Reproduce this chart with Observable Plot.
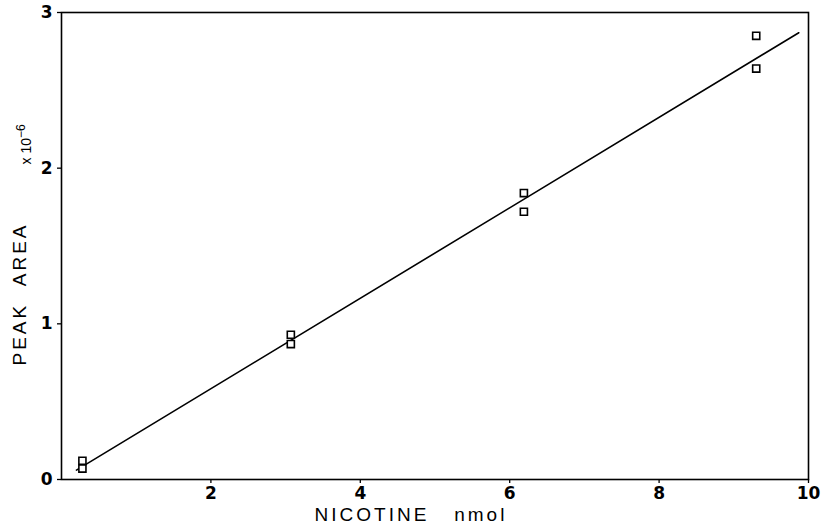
<!DOCTYPE html>
<html>
<head>
<meta charset="utf-8">
<script src="https://cdn.jsdelivr.net/npm/d3@7"></script>
<script src="https://cdn.jsdelivr.net/npm/@observablehq/plot@0.6"></script>
<style>
  html, body { margin: 0; padding: 0; background: #fff; }
  svg { display: block; }
  g.xlab text { font-size: 19px; letter-spacing: 3px; }
  g.ylab text { font-size: 19px; letter-spacing: 3px; }
  g.exp text { font-size: 14px; }
  text.ticklab { font-family: 'DejaVu Sans', sans-serif !important; font-size: 17px !important; font-weight: bold !important; }
</style>
</head>
<body>
<div id="chart"></div>
<script>
// Nicotine amount (nmol) and peak area (x 10^-6)
const nicotine = [0.28, 0.28, 3.07, 3.07, 6.19, 6.19, 9.30, 9.30];
const peakArea = [0.12, 0.07, 0.93, 0.87, 1.84, 1.72, 2.85, 2.64];
// regression line end points
const fitX = [0.2, 9.87];
const fitY = [0.06, 2.87];
const xTicks = [2, 4, 6, 8, 10];
const yTicks = [0, 1, 2, 3];

const points = nicotine.map((x, i) => ({x, y: peakArea[i]}));
const fit = fitX.map((x, i) => ({x, y: fitY[i]}));

const font = "'Liberation Sans', Arial, Helvetica, sans-serif";

const chart = Plot.plot({
  width: 824,
  height: 532,
  marginLeft: 61,
  marginRight: 16,
  marginTop: 12,
  marginBottom: 53,
  style: {fontFamily: font, color: "#000", background: "#fff"},
  x: {domain: [0, 10]},
  y: {domain: [0, 3]},
  marks: [
    Plot.frame({stroke: "#000", strokeWidth: 1.6}),
    Plot.axisX({ticks: xTicks, tickFormat: "d", tickSize: 4, tickPadding: 3, label: null, strokeWidth: 1.3}),
    Plot.axisY({ticks: yTicks, tickFormat: "d", tickSize: 4, tickPadding: 5, label: null, strokeWidth: 1.3}),
    Plot.line(fit, {x: "x", y: "y", stroke: "#000", strokeWidth: 1.6}),
    Plot.dot(points, {x: "x", y: "y", symbol: "square", r: 4, stroke: "#000", strokeWidth: 1.6, fill: "#fff"}),
    Plot.text(["NICOTINE\u00a0\u00a0\u00a0nmol"], {className: "xlab", frameAnchor: "bottom", dx: -24, dy: 41, fill: "#000", textAnchor: "middle"}),
    Plot.text(["PEAK\u00a0\u00a0AREA"], {className: "ylab", frameAnchor: "left", dx: -42, dy: 48, rotate: -90, fill: "#000", textAnchor: "middle"}),
    Plot.text(["x 10"], {className: "exp", frameAnchor: "top-left", dx: -40, dy: 152, rotate: -90, fill: "#000", textAnchor: "start"})
  ]
});
// bold, larger tick labels: every text that is not one of the title labels
const tickStrings = new Set([...xTicks, ...yTicks].map(String));
d3.select(chart).selectAll("text")
  .filter(function() {
    const g = this.closest("g");
    const own = g && (g.classList.contains("xlab") || g.classList.contains("ylab") || g.classList.contains("exp"));
    return !own && tickStrings.has(this.textContent.trim());
  })
  .classed("ticklab", true)
  .attr("font-size", 17).attr("font-weight", "bold");
// superscript exponent on the multiplier label
d3.select(chart).select("g.exp text").append("tspan")
  .attr("dy", "-0.5em").attr("font-size", "12px").text("\u22126");
document.getElementById("chart").appendChild(chart);
</script>
</body>
</html>
